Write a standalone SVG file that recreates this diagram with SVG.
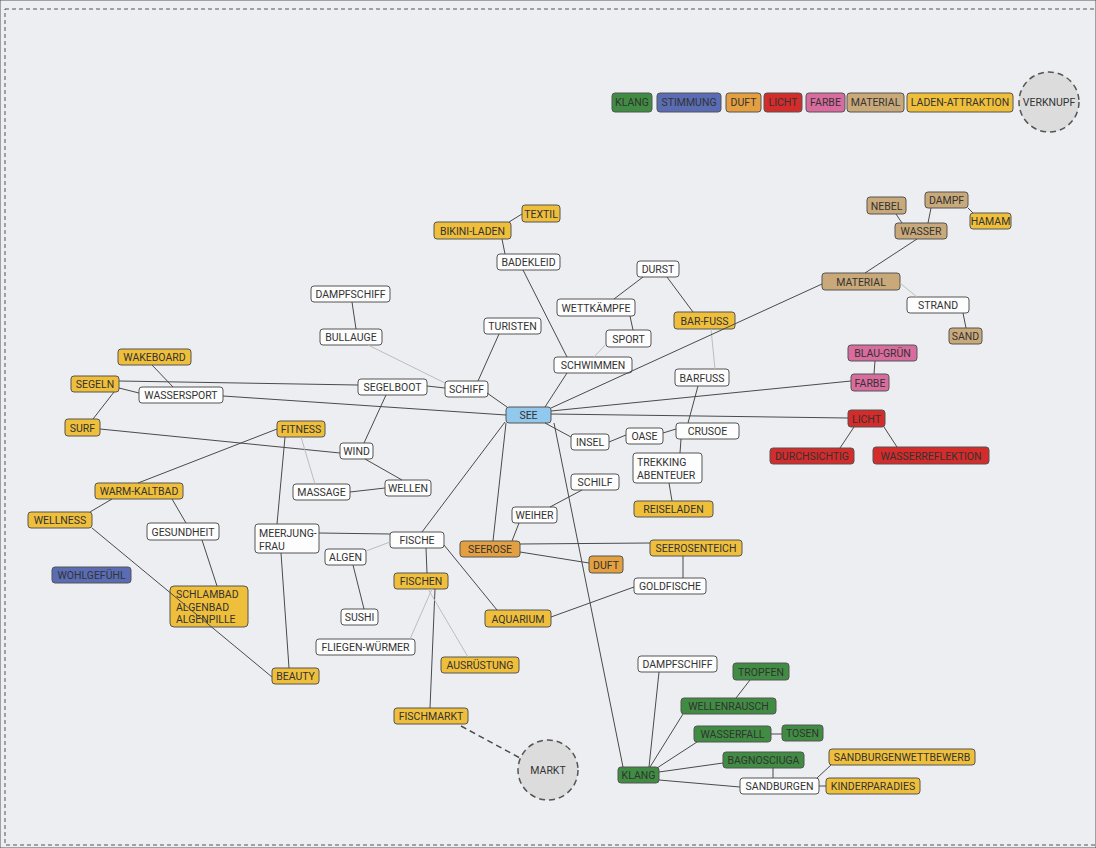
<svg xmlns="http://www.w3.org/2000/svg" width="1096" height="848" viewBox="0 0 1096 848">
<style>
text{font-family:Roboto,"DejaVu Sans",sans-serif;font-size:10.5px;fill:#333;text-anchor:middle}
text.l{text-anchor:start}
rect{stroke:#555;stroke-width:1}
.n{fill:#fdfdfd}.y{fill:#efbf3c}.o{fill:#e4a040}.g{fill:#3f8c42}.b{fill:#5a6cb4}.r{fill:#d42b2b}.p{fill:#d96c9e}.t{fill:#c9a97a}.s{fill:#92c8ec}
.c{fill:#dcdcdc;stroke:#555;stroke-width:1.5;stroke-dasharray:6 4}
#connectors line{stroke:#4a4a4a;stroke-width:1}
#connectors line.lt{stroke:#bdbdbd}
#connectors line.d{stroke-width:1.5;stroke-dasharray:6 4}
</style>
<rect x="0" y="0" width="1096" height="848" fill="#eceef1" stroke="none"/>
<rect x="5" y="9" width="1100" height="836" fill="none" stroke="#777" stroke-dasharray="4 3"/>

<g id="legend">
<g id="leg-klang"><rect class="g" x="612" y="93" width="40" height="19" rx="3"/><text x="632" y="106">KLANG</text></g>
<g id="leg-stimmung"><rect class="b" x="657" y="93" width="64" height="19" rx="3"/><text x="689" y="106">STIMMUNG</text></g>
<g id="leg-duft"><rect class="o" x="726" y="93" width="35" height="19" rx="3"/><text x="743.5" y="106">DUFT</text></g>
<g id="leg-licht"><rect class="r" x="764" y="93" width="38" height="19" rx="3"/><text x="783" y="106">LICHT</text></g>
<g id="leg-farbe"><rect class="p" x="806" y="93" width="39" height="19" rx="3"/><text x="825.5" y="106">FARBE</text></g>
<g id="leg-material"><rect class="t" x="847" y="93" width="57" height="19" rx="3"/><text x="875.5" y="106">MATERIAL</text></g>
<g id="leg-laden"><rect class="y" x="907" y="93" width="106" height="19" rx="3"/><text x="960" y="106">LADEN-ATTRAKTION</text></g>
<g id="leg-verknupf"><circle class="c" cx="1049" cy="102" r="30"/><text x="1049" y="106">VERKNUPF</text></g>
</g>

<g id="nodes">
<g id="textil"><rect class="y" x="522" y="205" width="38" height="17" rx="3"/><text x="541" y="217.5">TEXTIL</text></g>
<g id="bikini-laden"><rect class="y" x="434" y="222" width="77" height="17" rx="3"/><text x="472.5" y="234.5">BIKINI-LADEN</text></g>
<g id="badekleid"><rect class="n" x="497" y="254" width="63" height="16" rx="3"/><text x="528.5" y="265.7">BADEKLEID</text></g>
<g id="durst"><rect class="n" x="637" y="261" width="42" height="16" rx="3"/><text x="658" y="272.7">DURST</text></g>
<g id="wettkaempfe"><rect class="n" x="557" y="299" width="78" height="17" rx="3"/><text x="596" y="311.5">WETTKÄMPFE</text></g>
<g id="bar-fuss"><rect class="y" x="674" y="312" width="61" height="17" rx="3"/><text x="704.5" y="324.5">BAR-FUSS</text></g>
<g id="turisten"><rect class="n" x="484" y="318" width="57" height="16" rx="3"/><text x="512.5" y="329.7">TURISTEN</text></g>
<g id="sport"><rect class="n" x="606" y="330" width="45" height="17" rx="3"/><text x="628.5" y="342.5">SPORT</text></g>
<g id="schwimmen"><rect class="n" x="554" y="357" width="78" height="16" rx="3"/><text x="593" y="368.7">SCHWIMMEN</text></g>
<g id="barfuss"><rect class="n" x="675" y="369" width="54" height="17" rx="3"/><text x="702" y="381.5">BARFUSS</text></g>
<g id="nebel"><rect class="t" x="867" y="197" width="39" height="17" rx="3"/><text x="886.5" y="209.5">NEBEL</text></g>
<g id="dampf"><rect class="t" x="925" y="192" width="43" height="16" rx="3"/><text x="946.5" y="203.7">DAMPF</text></g>
<g id="hamam"><rect class="y" x="970" y="213" width="41" height="16" rx="3"/><text x="990.5" y="224.7">HAMAM</text></g>
<g id="wasser"><rect class="t" x="895" y="223" width="52" height="16" rx="3"/><text x="921" y="234.7">WASSER</text></g>
<g id="material"><rect class="t" x="822" y="273" width="78" height="17" rx="3"/><text x="861" y="285.5">MATERIAL</text></g>
<g id="strand"><rect class="n" x="907" y="297" width="62" height="16" rx="3"/><text x="938" y="308.7">STRAND</text></g>
<g id="sand"><rect class="t" x="949" y="328" width="33" height="16" rx="3"/><text x="965.5" y="339.7">SAND</text></g>
<g id="blau-gruen"><rect class="p" x="848" y="345" width="69" height="16" rx="3"/><text x="882.5" y="356.7">BLAU-GRÜN</text></g>
<g id="farbe"><rect class="p" x="851" y="374" width="38" height="17" rx="3"/><text x="870" y="386.5">FARBE</text></g>
<g id="licht"><rect class="r" x="848" y="410" width="37" height="17" rx="3"/><text x="866.5" y="422.5">LICHT</text></g>
<g id="durchsichtig"><rect class="r" x="770" y="448" width="84" height="16" rx="3"/><text x="812" y="459.7">DURCHSICHTIG</text></g>
<g id="wasserreflektion"><rect class="r" x="873" y="447" width="116" height="17" rx="3"/><text x="931" y="459.5">WASSERREFLEKTION</text></g>
<g id="wakeboard"><rect class="y" x="118" y="349" width="73" height="16" rx="3"/><text x="154.5" y="360.7">WAKEBOARD</text></g>
<g id="segeln"><rect class="y" x="71" y="376" width="48" height="16" rx="3"/><text x="95" y="387.7">SEGELN</text></g>
<g id="wassersport"><rect class="n" x="139" y="387" width="84" height="16" rx="3"/><text x="181" y="398.7">WASSERSPORT</text></g>
<g id="surf"><rect class="y" x="65" y="419" width="35" height="17" rx="3"/><text x="82.5" y="431.5">SURF</text></g>
<g id="fitness"><rect class="y" x="277" y="421" width="48" height="16" rx="3"/><text x="301" y="432.7">FITNESS</text></g>
<g id="wind"><rect class="n" x="340" y="443" width="33" height="16" rx="3"/><text x="356.5" y="454.7">WIND</text></g>
<g id="warm-kaltbad"><rect class="y" x="95" y="483" width="88" height="16" rx="3"/><text x="139" y="494.7">WARM-KALTBAD</text></g>
<g id="massage"><rect class="n" x="293" y="484" width="57" height="16" rx="3"/><text x="321.5" y="495.7">MASSAGE</text></g>
<g id="wellness"><rect class="y" x="28" y="512" width="64" height="16" rx="3"/><text x="60" y="523.7">WELLNESS</text></g>
<g id="gesundheit"><rect class="n" x="147" y="523" width="72" height="17" rx="3"/><text x="183" y="535.5">GESUNDHEIT</text></g>
<g id="meerjungfrau"><rect class="n" x="255" y="524" width="64" height="29" rx="3"/><text class="l" x="259" y="537">MEERJUNG-</text><text class="l" x="259" y="549.5">FRAU</text></g>
<g id="wohlgefuehl"><rect class="b" x="52" y="567" width="79" height="16" rx="3"/><text x="91.5" y="578.7">WOHLGEFÜHL</text></g>
<g id="schlambad"><rect class="y" x="170" y="586" width="78" height="41" rx="4"/><text class="l" x="176" y="598">SCHLAMBAD</text><text class="l" x="176" y="610.5">ALGENBAD</text><text class="l" x="176" y="623">ALGENPILLE</text></g>
<g id="beauty"><rect class="y" x="272" y="668" width="47" height="16" rx="3"/><text x="295.5" y="679.7">BEAUTY</text></g>
<g id="dampfschiff1"><rect class="n" x="311" y="286" width="79" height="16" rx="3"/><text x="350.5" y="297.7">DAMPFSCHIFF</text></g>
<g id="bullauge"><rect class="n" x="320" y="329" width="62" height="16" rx="3"/><text x="351" y="340.7">BULLAUGE</text></g>
<g id="segelboot"><rect class="n" x="358" y="379" width="69" height="16" rx="3"/><text x="392.5" y="390.7">SEGELBOOT</text></g>
<g id="schiff"><rect class="n" x="445" y="381" width="43" height="16" rx="3"/><text x="466.5" y="392.7">SCHIFF</text></g>
<g id="see"><rect class="s" x="506" y="407" width="45" height="16" rx="3"/><text x="528.5" y="418.7">SEE</text></g>
<g id="insel"><rect class="n" x="571" y="434" width="38" height="16" rx="3"/><text x="590" y="445.7">INSEL</text></g>
<g id="oase"><rect class="n" x="626" y="428" width="37" height="16" rx="3"/><text x="644.5" y="439.7">OASE</text></g>
<g id="crusoe"><rect class="n" x="676" y="423" width="63" height="16" rx="3"/><text x="707.5" y="434.7">CRUSOE</text></g>
<g id="trekking"><rect class="n" x="633" y="453" width="69" height="30" rx="3"/><text class="l" x="637" y="466">TREKKING</text><text class="l" x="637" y="479">ABENTEUER</text></g>
<g id="schilf"><rect class="n" x="571" y="474" width="48" height="16" rx="3"/><text x="595" y="485.7">SCHILF</text></g>
<g id="reiseladen"><rect class="y" x="634" y="501" width="79" height="16" rx="3"/><text x="673.5" y="512.7">REISELADEN</text></g>
<g id="wellen"><rect class="n" x="385" y="480" width="46" height="16" rx="3"/><text x="408" y="491.7">WELLEN</text></g>
<g id="weiher"><rect class="n" x="512" y="507" width="45" height="16" rx="3"/><text x="534.5" y="518.7">WEIHER</text></g>
<g id="fische"><rect class="n" x="390" y="532" width="54" height="16" rx="3"/><text x="417" y="543.7">FISCHE</text></g>
<g id="seerose"><rect class="o" x="460" y="541" width="60" height="16" rx="3"/><text x="490" y="552.7">SEEROSE</text></g>
<g id="seerosenteich"><rect class="y" x="650" y="540" width="92" height="16" rx="3"/><text x="696" y="551.7">SEEROSENTEICH</text></g>
<g id="algen"><rect class="n" x="325" y="549" width="41" height="16" rx="3"/><text x="345.5" y="560.7">ALGEN</text></g>
<g id="duft"><rect class="o" x="589" y="556" width="34" height="17" rx="3"/><text x="606" y="568.5">DUFT</text></g>
<g id="fischen"><rect class="y" x="394" y="573" width="54" height="16" rx="3"/><text x="421" y="584.7">FISCHEN</text></g>
<g id="goldfische"><rect class="n" x="634" y="578" width="72" height="16" rx="3"/><text x="670" y="589.7">GOLDFISCHE</text></g>
<g id="sushi"><rect class="n" x="341" y="609" width="37" height="16" rx="3"/><text x="359.5" y="620.7">SUSHI</text></g>
<g id="aquarium"><rect class="y" x="485" y="610" width="66" height="17" rx="3"/><text x="518" y="622.5">AQUARIUM</text></g>
<g id="fliegen-wuermer"><rect class="n" x="316" y="639" width="99" height="16" rx="3"/><text x="365.5" y="650.7">FLIEGEN-WÜRMER</text></g>
<g id="ausruestung"><rect class="y" x="441" y="657" width="78" height="16" rx="3"/><text x="480" y="668.7">AUSRÜSTUNG</text></g>
<g id="fischmarkt"><rect class="y" x="394" y="708" width="74" height="16" rx="3"/><text x="431" y="719.7">FISCHMARKT</text></g>
<g id="markt"><circle class="c" cx="548" cy="770" r="30"/><text x="548" y="774">MARKT</text></g>
<g id="dampfschiff2"><rect class="n" x="638" y="656" width="79" height="16" rx="3"/><text x="677.5" y="667.7">DAMPFSCHIFF</text></g>
<g id="tropfen"><rect class="g" x="733" y="663" width="56" height="17" rx="3"/><text x="761" y="675.5">TROPFEN</text></g>
<g id="wellenrausch"><rect class="g" x="681" y="698" width="95" height="16" rx="3"/><text x="728.5" y="709.7">WELLENRAUSCH</text></g>
<g id="wasserfall"><rect class="g" x="694" y="726" width="77" height="16" rx="3"/><text x="732.5" y="737.7">WASSERFALL</text></g>
<g id="tosen"><rect class="g" x="782" y="725" width="41" height="16" rx="3"/><text x="802.5" y="736.7">TOSEN</text></g>
<g id="bagnosciuga"><rect class="g" x="723" y="752" width="81" height="16" rx="3"/><text x="763.5" y="763.7">BAGNOSCIUGA</text></g>
<g id="sandburgenwettbewerb"><rect class="y" x="829" y="749" width="146" height="16" rx="3"/><text x="902" y="760.7">SANDBURGENWETTBEWERB</text></g>
<g id="klang"><rect class="g" x="618" y="767" width="41" height="16" rx="3"/><text x="638.5" y="778.7">KLANG</text></g>
<g id="sandburgen"><rect class="n" x="740" y="778" width="79" height="16" rx="3"/><text x="779.5" y="789.7">SANDBURGEN</text></g>
<g id="kinderparadies"><rect class="y" x="826" y="778" width="94" height="16" rx="3"/><text x="873" y="789.7">KINDERPARADIES</text></g>
</g>

<g id="connectors">
<line x1="522" y1="214" x2="509" y2="222"/>
<line x1="502" y1="239" x2="505" y2="254"/>
<line x1="523" y1="270" x2="567" y2="357"/>
<line x1="643" y1="277" x2="614" y2="299"/>
<line x1="667" y1="277" x2="693" y2="312"/>
<line x1="630" y1="316" x2="633" y2="330"/>
<line class="lt" x1="606" y1="344" x2="594" y2="357"/>
<line class="lt" x1="711" y1="329" x2="715" y2="369"/>
<line x1="499" y1="334" x2="478" y2="381"/>
<line x1="567" y1="373" x2="545" y2="407"/>
<line x1="551" y1="408" x2="822" y2="284"/>
<line x1="551" y1="411" x2="851" y2="381"/>
<line x1="551" y1="414" x2="848" y2="418"/>
<line x1="865" y1="273" x2="917" y2="239"/>
<line x1="896" y1="214" x2="902" y2="223"/>
<line x1="931" y1="208" x2="928" y2="223"/>
<line x1="968" y1="208" x2="973" y2="213"/>
<line class="lt" x1="900" y1="283" x2="917" y2="297"/>
<line x1="963" y1="313" x2="966" y2="328"/>
<line x1="875" y1="361" x2="874" y2="374"/>
<line x1="854" y1="427" x2="840" y2="448"/>
<line x1="884" y1="427" x2="897" y2="447"/>
<line x1="152" y1="365" x2="173" y2="387"/>
<line x1="119" y1="381" x2="358" y2="385"/>
<line x1="119" y1="388" x2="139" y2="393"/>
<line x1="223" y1="396" x2="506" y2="415"/>
<line x1="114" y1="392" x2="93" y2="419"/>
<line x1="100" y1="429" x2="340" y2="453"/>
<line x1="427" y1="386" x2="445" y2="388"/>
<line x1="487" y1="393" x2="507" y2="407"/>
<line class="lt" x1="368" y1="345" x2="445" y2="383"/>
<line x1="352" y1="302" x2="356" y2="329"/>
<line x1="386" y1="395" x2="364" y2="443"/>
<line x1="365" y1="459" x2="402" y2="480"/>
<line x1="350" y1="492" x2="385" y2="488"/>
<line class="lt" x1="301" y1="437" x2="315" y2="484"/>
<line x1="277" y1="429" x2="138" y2="483"/>
<line x1="285" y1="437" x2="277" y2="524"/>
<line x1="112" y1="499" x2="90" y2="512"/>
<line x1="172" y1="499" x2="186" y2="523"/>
<line x1="202" y1="540" x2="217" y2="586"/>
<line x1="92" y1="528" x2="272" y2="677"/>
<line x1="319" y1="533" x2="390" y2="534"/>
<line x1="281" y1="553" x2="289" y2="668"/>
<line class="lt" x1="366" y1="551" x2="390" y2="542"/>
<line x1="353" y1="565" x2="364" y2="609"/>
<line x1="422" y1="532" x2="505" y2="422"/>
<line x1="426" y1="548" x2="427" y2="573"/>
<line x1="444" y1="545" x2="497" y2="610"/>
<line x1="435" y1="589" x2="430" y2="708"/>
<line class="lt" x1="432" y1="589" x2="410" y2="639"/>
<line class="lt" x1="428" y1="589" x2="468" y2="657"/>
<line class="d" x1="461" y1="726" x2="520" y2="758"/>
<line x1="493" y1="541" x2="506" y2="423"/>
<line x1="512" y1="541" x2="519" y2="523"/>
<line x1="550" y1="507" x2="582" y2="490"/>
<line x1="520" y1="544" x2="650" y2="543"/>
<line x1="520" y1="552" x2="589" y2="563"/>
<line x1="683" y1="556" x2="683" y2="578"/>
<line x1="634" y1="587" x2="551" y2="617"/>
<line x1="545" y1="423" x2="571" y2="437"/>
<line x1="609" y1="442" x2="626" y2="435"/>
<line x1="663" y1="433" x2="676" y2="429"/>
<line x1="698" y1="386" x2="688" y2="423"/>
<line x1="681" y1="439" x2="680" y2="453"/>
<line x1="669" y1="483" x2="672" y2="501"/>
<line x1="554" y1="423" x2="623" y2="767"/>
<line x1="649" y1="767" x2="659" y2="672"/>
<line x1="650" y1="767" x2="683" y2="714"/>
<line x1="657" y1="768" x2="697" y2="742"/>
<line x1="659" y1="772" x2="723" y2="763"/>
<line x1="659" y1="780" x2="740" y2="787"/>
<line x1="736" y1="698" x2="750" y2="680"/>
<line x1="771" y1="734" x2="782" y2="734"/>
<line x1="773" y1="768" x2="773" y2="778"/>
<line x1="817" y1="778" x2="831" y2="765"/>
<line x1="819" y1="786" x2="826" y2="786"/>
</g>
</svg>
